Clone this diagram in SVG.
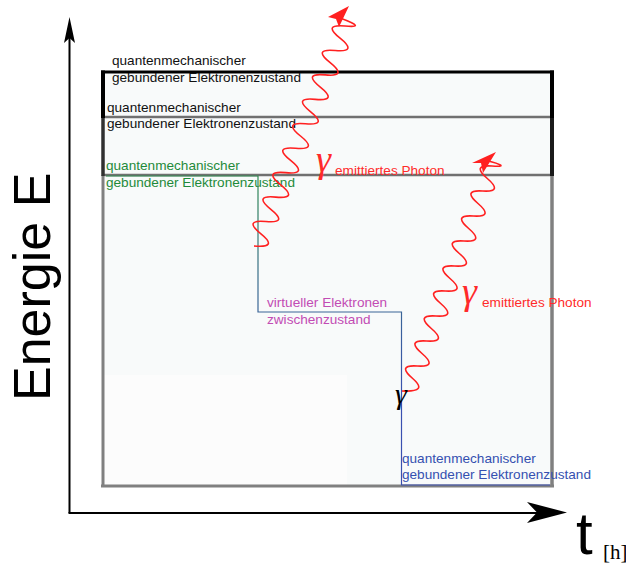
<svg xmlns="http://www.w3.org/2000/svg" width="626" height="567" viewBox="0 0 626 567">
<style>
.lbl{font-family:"Liberation Sans",Arial,sans-serif;font-size:13.6px}
.k{fill:#111}
.g{fill:#1f8a3a}
.p{fill:#c24cb4}
.b{fill:#3550b0}
.r{fill:#ff2a2a}
.gam{font-family:"Liberation Serif","Times New Roman",serif;font-style:italic}
.wave{fill:none;stroke:#ff2020;stroke-width:1.6}
</style>
<defs>
<linearGradient id="trans" gradientUnits="userSpaceOnUse" x1="0" y1="176" x2="0" y2="400">
<stop offset="0" stop-color="#2e8a50"/>
<stop offset="0.5" stop-color="#3a6a90"/>
<stop offset="1" stop-color="#3a50b0"/>
</linearGradient>
</defs>
<rect width="626" height="567" fill="#ffffff"/>
<g id="box">
<rect x="103" y="72" width="449" height="414" fill="#f8fafa"/>
<rect x="104" y="375" width="243" height="110" fill="#fcfcfc"/>
<line x1="103" y1="117" x2="552" y2="117" stroke="#707070" stroke-width="2.5"/>
<line x1="103" y1="175" x2="552" y2="175" stroke="#707070" stroke-width="2.5"/>
<line x1="101" y1="486" x2="554" y2="486" stroke="#808080" stroke-width="3"/>
<line x1="103" y1="175" x2="103" y2="487" stroke="#808080" stroke-width="3"/>
<line x1="552" y1="175" x2="552" y2="487" stroke="#808080" stroke-width="3.5"/>
<line x1="103" y1="117" x2="103" y2="176" stroke="#303030" stroke-width="3.5"/>
<line x1="552" y1="117" x2="552" y2="176" stroke="#1a1a1a" stroke-width="4"/>
<line x1="103" y1="70.5" x2="103" y2="118" stroke="#000" stroke-width="4"/>
<line x1="552" y1="70.5" x2="552" y2="118" stroke="#000" stroke-width="4"/>
<line x1="101" y1="72" x2="554" y2="72" stroke="#000" stroke-width="3"/>
</g>
<g id="axes">
<line x1="69.5" y1="513" x2="69.5" y2="38" stroke="#000" stroke-width="2"/>
<line x1="68.5" y1="513" x2="538" y2="513" stroke="#000" stroke-width="2"/>
<polygon points="69.5,17 75,43 69.5,38 64,43" fill="#000"/>
<polygon points="567,512.5 527,502 537,512.5 527,523" fill="#000"/>
</g>
<g id="axis-labels">
<text transform="translate(50,401) rotate(-90)" font-family="Liberation Sans,Arial,sans-serif" font-size="52" fill="#000">Energie E</text>
<text x="576" y="554" font-family="Liberation Sans,Arial,sans-serif" font-size="60" fill="#000">t</text>
<text x="603" y="559" font-family="Liberation Serif,Times New Roman,serif" font-size="21" fill="#000">[h]</text>
</g>
<g id="state1">
<text class="lbl k" x="112" y="65">quantenmechanischer</text>
<text class="lbl k" x="112" y="82">gebundener Elektronenzustand</text>
</g>
<g id="state2">
<text class="lbl k" x="107" y="111.5">quantenmechanischer</text>
<text class="lbl k" x="107" y="127.5">gebundener Elektronenzustand</text>
</g>
<g id="state3">
<text class="lbl g" x="106" y="170">quantenmechanischer</text>
<text class="lbl g" x="106" y="187">gebundener Elektronenzustand</text>
</g>
<g id="virtual">
<text class="lbl p" x="267" y="307">virtueller Elektronen</text>
<text class="lbl p" x="267" y="324">zwischenzustand</text>
</g>
<g id="ground">
<text class="lbl b" x="402" y="463">quantenmechanischer</text>
<text class="lbl b" x="402" y="478.5">gebundener Elektronenzustand</text>
</g>
<g id="connectors">
<path d="M106,176 H258 V312 H401.5 V485 H550" fill="none" stroke="url(#trans)" stroke-width="1.2"/>
</g>
<g id="photon1">
<path class="wave" d="M254,246 Q278.86,248.14 260.94,233.78 T265.89,221.56 T270.83,209.33 T275.78,197.11 T280.72,184.89 T285.67,172.67 T290.61,160.44 T295.56,148.22 T300.5,136 T305.44,123.78 T310.39,111.56 T315.33,99.33 T320.28,87.11 T325.22,74.89 T330.17,62.67 T335.11,50.44 T340.06,38.22 T345,26 T340,18"/>
<polygon points="349,6 328,17 336,19 339,27" fill="#ff2020"/>
<text class="gam r" x="316" y="172" font-size="38">γ</text>
<text class="lbl r" x="335" y="175">emittiertes Photon</text>
</g>
<g id="photon2">
<path class="wave" d="M402,391 Q428.9,392.45 412.67,378.5 T417.33,366 T422,353.5 T426.67,341 T431.33,328.5 T436,316 T440.67,303.5 T445.33,291 T450,278.5 T454.67,266 T459.33,253.5 T464,241 T468.67,228.5 T473.33,216 T478,203.5 T482.67,191 T487.33,178.5 T492,166 T485,160"/>
<polygon points="496,152 472,163 481,163 483,173" fill="#ff2020"/>
<text class="gam r" x="462" y="304" font-size="38">γ</text>
<text class="lbl r" x="482" y="307">emittiertes Photon</text>
</g>
<g id="absorbed">
<text class="gam" x="395" y="404" font-size="30" fill="#000">γ</text>
</g>
</svg>
